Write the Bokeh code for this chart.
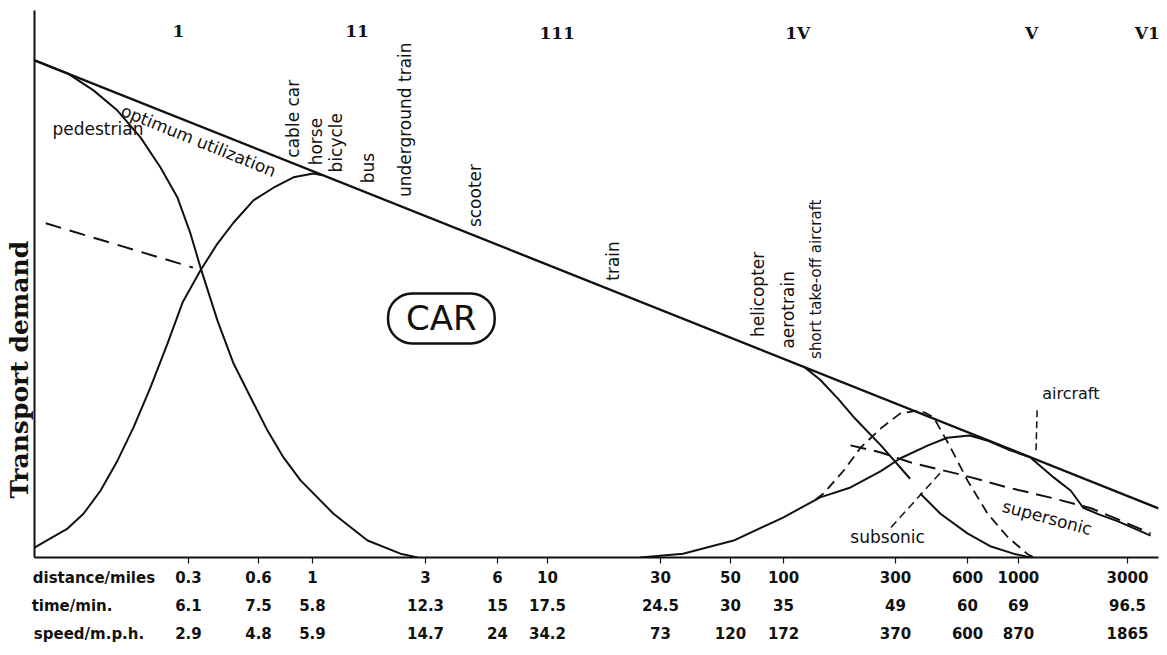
import math
from bokeh.plotting import figure
from bokeh.models import Range1d, LinearAxis, FixedTicker, Label, Title
from bokeh.embed import file_html
from bokeh.resources import INLINE

# ---------------- data ----------------
# journey-length position of each column (0..100 across the axis)
col_pos = [13.70, 19.93, 24.73, 34.79, 41.19, 45.64, 55.69, 61.92, 66.64, 76.60, 83.01, 87.54, 97.24]
dist_labels = ["0.3", "0.6", "1", "3", "6", "10", "30", "50", "100", "300", "600", "1000", "3000"]
time_labels = ["6.1", "7.5", "5.8", "12.3", "15", "17.5", "24.5", "30", "35", "49", "60", "69", "96.5"]
speed_labels = ["2.9", "4.8", "5.9", "14.7", "24", "34.2", "73", "120", "172", "370", "600", "870", "1865"]
row_titles = ["distance/miles", "time/min.", "speed/m.p.h."]
row_title_pos = [5.29, 3.34, 4.85]

y_title = "Transport demand"

stage_labels = ["1", "11", "111", "1V", "V", "V1"]
stage_x = [12.8, 28.7, 46.5, 67.9, 88.7, 99.0]
stage_y = [96.3, 96.3, 95.8, 95.8, 95.8, 95.8]

mode_labels = ["cable car", "horse", "bicycle", "bus", "underground train", "scooter",
               "train", "helicopter", "aerotrain", "short take-off aircraft"]
mode_x = [23.0, 25.0, 26.8, 29.7, 33.0, 39.2, 51.5, 64.4, 67.0, 69.5]
mode_y = [73.1, 71.7, 70.4, 68.4, 65.9, 60.4, 50.6, 40.3, 38.2, 36.3]

# optimum utilization (upper envelope)
opt_x = [0.0, 100.0]
opt_y = [90.9, 9.0]

# pedestrian
ped_x = [0.0, 2.94, 5.25, 7.38, 9.43, 11.21, 12.72, 13.88, 14.77, 16.28, 17.70, 19.22,
         20.73, 22.15, 23.67, 26.60, 29.63, 32.56, 34.07]
ped_y = [90.9, 88.5, 85.4, 81.7, 76.8, 71.3, 65.8, 59.2, 53.0, 43.3, 35.5, 29.3,
         23.2, 18.3, 14.1, 8.0, 3.1, 0.7, 0.0]

# pedestrian (dashed)
pedd_x = [1.0, 14.1]
pedd_y = [61.1, 53.0]

# car rising branch
carl_x = [0.0, 1.42, 2.94, 4.36, 5.87, 7.38, 8.81, 10.32, 11.83, 13.17, 14.77, 16.28,
          17.70, 19.48, 21.26, 23.04, 24.82, 25.6]
carl_y = [1.8, 3.5, 5.3, 8.0, 12.2, 17.7, 23.8, 31.1, 39.1, 46.6, 52.5, 57.4,
          61.2, 65.3, 67.6, 69.5, 70.2, 69.9]

# car falling branch
carr_x = [68.5, 69.9, 71.5, 73.0, 75.3, 77.9]
carr_y = [34.8, 32.5, 29.0, 25.4, 20.5, 14.4]

# subsonic (solid)
sub_x = [78.8, 80.6, 83.0, 85.1, 87.1, 88.6]
sub_y = [11.7, 8.0, 4.4, 2.0, 0.7, 0.0]

# short take-off aircraft (dashed bell)
stol_x = [69.5, 70.2, 72.0, 73.5, 75.3, 77.0, 78.4, 79.2, 80.0, 81.5, 83.0, 84.8, 86.6, 88.3, 88.9]
stol_y = [10.6, 11.7, 15.9, 20.1, 23.6, 26.3, 26.8, 26.5, 25.6, 20.1, 14.1, 8.0, 3.7, 0.7, 0.0]

# aircraft (solid)
air_x = [53.9, 57.7, 62.2, 66.6, 69.9, 72.6, 75.3, 77.0, 79.5, 81.2, 83.2, 84.9, 86.8, 88.6,
         90.7, 92.2, 93.3, 94.8, 96.4, 99.3]
air_y = [0.0, 0.7, 3.1, 7.3, 11.0, 12.8, 15.8, 18.1, 20.5, 21.9, 22.3, 21.3, 19.6, 18.3,
         14.6, 12.2, 9.1, 7.8, 6.6, 4.0]

# supersonic (long dashes)
sup_x = [72.6, 75.3, 77.9, 82.7, 86.6, 90.7, 94.0, 96.6, 99.3]
sup_y = [20.5, 19.2, 17.4, 15.0, 12.8, 10.8, 9.0, 6.8, 4.4]

# leader lines
subl_x = [76.2, 80.6]
subl_y = [5.5, 15.5]
airl_x = [89.2, 89.1]
airl_y = [26.9, 19.2]

# ---------------- figure ----------------
p = figure(width=1160, height=650, x_range=Range1d(0, 100), y_range=Range1d(0, 100),
           output_backend="svg", toolbar_location=None,
           x_axis_type=None, y_axis_type=None,
           min_border_left=34, min_border_right=2, min_border_top=10, min_border_bottom=93,
           background_fill_color="white", border_fill_color="white", outline_line_color=None)

INK = "#111111"
SANS = "DejaVu Sans"

# left axis: plain line
yax = LinearAxis(ticker=FixedTicker(ticks=[], minor_ticks=[]),
                 axis_line_width=2, axis_line_color=INK,
                 major_tick_out=0, minor_tick_out=0, major_tick_in=0, minor_tick_in=0)
p.add_layout(yax, "left")
p.add_layout(Title(text=y_title, align="left", offset=59, vertical_align="bottom",
                   standoff=2, text_font="DejaVu Serif", text_font_style="bold",
                   text_font_size="25px", text_color=INK), "left")

# bottom: three rows of labels; the first carries the axis line and the tick marks
def label_axis(labels, title, title_pos, standoff, first):
    ticks = [title_pos] + col_pos
    texts = [title] + labels
    ax = LinearAxis(ticker=FixedTicker(ticks=ticks, minor_ticks=col_pos if first else []),
                    major_label_overrides=dict(zip(ticks, texts)),
                    major_label_standoff=standoff,
                    major_label_text_font=SANS, major_label_text_font_size="15px",
                    major_label_text_font_style="bold", major_label_text_color=INK,
                    major_tick_line_color=None, major_tick_out=0, major_tick_in=0,
                    minor_tick_in=0)
    if first:
        ax.axis_line_width = 2
        ax.axis_line_color = INK
        ax.minor_tick_out = 6
        ax.minor_tick_line_color = INK
        ax.minor_tick_line_width = 1.2
    else:
        ax.axis_line_color = None
        ax.minor_tick_out = 0
        ax.minor_tick_line_color = None
    return ax

p.add_layout(label_axis(dist_labels, row_titles[0], row_title_pos[0], 5, True), "below")
p.add_layout(label_axis(time_labels, row_titles[1], row_title_pos[1], 7, False), "below")
p.add_layout(label_axis(speed_labels, row_titles[2], row_title_pos[2], 7, False), "below")

# curves
p.line(opt_x, opt_y, line_color=INK, line_width=2.4)
p.line(ped_x, ped_y, line_color=INK, line_width=2)
p.line(pedd_x, pedd_y, line_color=INK, line_width=2, line_dash="16 9")
p.line(carl_x, carl_y, line_color=INK, line_width=2)
p.line(carr_x, carr_y, line_color=INK, line_width=2)
p.line(sub_x, sub_y, line_color=INK, line_width=2)
p.line(stol_x, stol_y, line_color=INK, line_width=1.8, line_dash="10 6")
p.line(air_x, air_y, line_color=INK, line_width=2)
p.line(sup_x, sup_y, line_color=INK, line_width=2, line_dash="16 8")
p.line(subl_x, subl_y, line_color=INK, line_width=1.5, line_dash="8 5")
p.line(airl_x, airl_y, line_color=INK, line_width=1.5, line_dash="7 4")

# stage numerals
for t, x, y in zip(stage_labels, stage_x, stage_y):
    p.add_layout(Label(x=x, y=y, text=t, text_align="center", text_baseline="middle",
                       text_font="DejaVu Serif", text_font_style="bold",
                       text_font_size="17px", text_color=INK))

# vertical mode labels
for t, x, y in zip(mode_labels, mode_x, mode_y):
    fs = "15px" if len(t) > 20 else "17px"
    p.add_layout(Label(x=x, y=y, text=t, angle=math.pi / 2, text_align="left",
                       text_baseline="middle", text_font=SANS, text_font_size=fs,
                       text_color=INK))

# other labels
p.add_layout(Label(x=1.6, y=78.4, text="pedestrian", text_align="left", text_baseline="middle",
                   text_font=SANS, text_font_size="17px", text_color=INK))
p.add_layout(Label(x=14.6, y=76.2, text="optimum utilization", angle=math.radians(-22),
                   text_align="center", text_baseline="middle",
                   text_font=SANS, text_font_size="17px", text_color=INK))
p.add_layout(Label(x=36.2, y=43.7, text="CAR", text_align="center", text_baseline="middle",
                   text_font=SANS, text_font_size="34px", text_color=INK,
                   border_line_color=INK, border_line_width=2.5,
                   background_fill_color="white", padding=(18, 5), border_radius=24))
p.add_layout(Label(x=92.2, y=30.0, text="aircraft", text_align="center", text_baseline="middle",
                   text_font=SANS, text_font_size="16px", text_color=INK))
p.add_layout(Label(x=90.1, y=7.3, text="supersonic", angle=math.radians(-15),
                   text_align="center", text_baseline="middle",
                   text_font=SANS, text_font_size="17px", text_color=INK))
p.add_layout(Label(x=75.9, y=3.7, text="subsonic", text_align="center", text_baseline="middle",
                   text_font=SANS, text_font_size="17px", text_color=INK))

open("out.html", "w").write(file_html(p, INLINE))
